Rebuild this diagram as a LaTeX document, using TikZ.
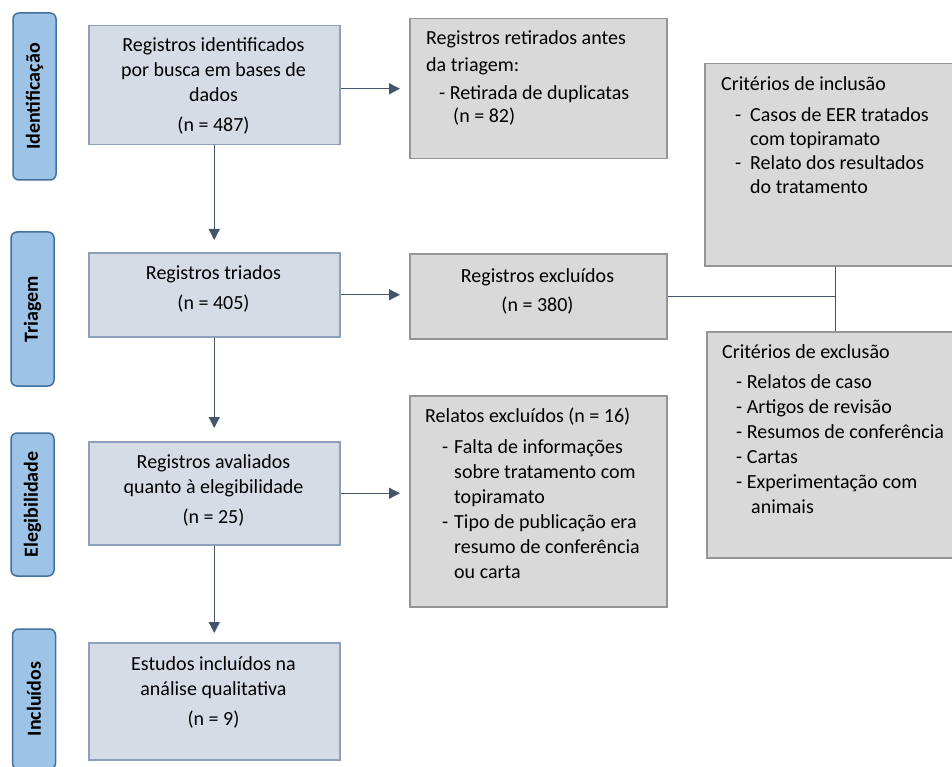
\documentclass[tikz,border=0pt]{standalone}
\usepackage{fontspec}
\setmainfont{Carlito}
\usetikzlibrary{arrows.meta}
\definecolor{sidefill}{HTML}{9DC3E6}
\definecolor{sideborder}{HTML}{41719C}
\definecolor{lfill}{HTML}{D6DCE5}
\definecolor{lborder}{HTML}{8EA0BC}
\definecolor{rfill}{HTML}{D9D9D9}
\definecolor{rborder}{HTML}{959595}
\definecolor{arrowc}{HTML}{44546A}
\tikzset{
  sidebar/.style={draw=sideborder, fill=sidefill, rounded corners=6pt, line width=1.5pt,
    rotate=90, inner sep=0pt, minimum height=43pt, font=\bfseries\fontsize{20}{24}\selectfont},
  lbox/.style={draw=lborder, fill=lfill, line width=1.5pt, inner sep=0pt, anchor=north west},
  rbox/.style={draw=rborder, fill=rfill, line width=1.5pt, inner sep=0pt, anchor=north west},
  ctext/.style={inner sep=0pt, anchor=base, font=\fontsize{20}{25}\selectfont},
  ltext/.style={inner sep=0pt, anchor=base west, font=\fontsize{20}{25}\selectfont},
  flow/.style={draw=arrowc, line width=1.3pt, -{Triangle[length=11pt,width=11pt]}},
  link/.style={draw=arrowc, line width=1pt}
}
\begin{document}
\begin{tikzpicture}[x=1pt,y=-1pt]
\useasboundingbox (0,0) rectangle (952,767);
\clip (0,0) rectangle (952,767);
% side bars
\node[sidebar, minimum width=167pt] (s1) at (34.5,96.5) {Identificação};
\node[sidebar, minimum width=154pt] (s2) at (32.5,309) {Triagem};
\node[sidebar, minimum width=143pt] (s3) at (32.5,504.5) {Elegibilidade};
\node[sidebar, minimum width=140pt] (s4) at (34,699) {Incluídos};
% left boxes
\node[lbox, minimum width=251pt, minimum height=119pt] (b1) at (88,25) {};
\node[lbox, minimum width=251pt, minimum height=84pt] (b2) at (88,252) {};
\node[lbox, minimum width=251pt, minimum height=103pt] (b3) at (88,441) {};
\node[lbox, minimum width=251pt, minimum height=117pt] (b4) at (88,642) {};
% right boxes
\node[rbox, minimum width=257pt, minimum height=140pt] (r1) at (409,18) {};
\node[rbox, minimum width=257pt, minimum height=85pt] (r2) at (409,253) {};
\node[rbox, minimum width=257pt, minimum height=211pt] (r3) at (409,395) {};
\node[rbox, minimum width=262pt, minimum height=202pt] (inc) at (704,63) {};
\node[rbox, minimum width=258pt, minimum height=226pt] (exc) at (706,331) {};
% texts
\node[ctext] (t1) at (213.5,52) {\begin{tabular}[t]{@{}c@{}}Registros identificados\\ por busca em bases de\\ dados\\[5pt] (n = 487)\end{tabular}};
\node[ctext] (t2) at (213.5,279) {\begin{tabular}[t]{@{}c@{}}Registros triados\\[5pt] (n = 405)\end{tabular}};
\node[ctext] (t3) at (213.5,468) {\begin{tabular}[t]{@{}c@{}}Registros avaliados\\ quanto à elegibilidade\\[5pt] (n = 25)\end{tabular}};
\node[ctext] (t4) at (213.5,670) {\begin{tabular}[t]{@{}c@{}}Estudos incluídos na\\ análise qualitativa\\[5pt] (n = 9)\end{tabular}};
\node[ltext] (tr1) at (426,45) {\begin{tabular}[t]{@{}l@{}}Registros retirados antes\\[2pt] da triagem:\\[3pt] \hspace*{13pt}- Retirada de duplicatas\\[-2pt] \hspace*{27pt}(n = 82)\end{tabular}};
\node[ctext] (tr2) at (537.5,282) {\begin{tabular}[t]{@{}c@{}}Registros excluídos\\[4pt] (n = 380)\end{tabular}};
\node[ltext] (tr3) at (425,422) {\begin{tabular}[t]{@{}l@{}}Relatos excluídos (n = 16)\\[6pt]
\hspace*{17pt}\makebox[12pt][l]{-}Falta de informações\\
\hspace*{29pt}sobre tratamento com\\
\hspace*{29pt}topiramato\\
\hspace*{17pt}\makebox[12pt][l]{-}Tipo de publicação era\\
\hspace*{29pt}resumo de conferência\\
\hspace*{29pt}ou carta\end{tabular}};
\node[ltext] (tinc) at (721,91) {\begin{tabular}[t]{@{}l@{}}Critérios de inclusão\\[6pt]
\hspace*{14pt}\makebox[15pt][l]{-}Casos de EER tratados\\[-1pt]
\hspace*{29pt}com topiramato\\[-1pt]
\hspace*{14pt}\makebox[15pt][l]{-}Relato dos resultados\\[-1pt]
\hspace*{29pt}do tratamento\end{tabular}};
\node[ltext] (texc) at (722,358) {\begin{tabular}[t]{@{}l@{}}Critérios de exclusão\\[5pt]
\hspace*{14pt}- Relatos de caso\\
\hspace*{14pt}- Artigos de revisão\\
\hspace*{14pt}- Resumos de conferência\\
\hspace*{14pt}- Cartas\\
\hspace*{14pt}- Experimentação com\\
\hspace*{29pt}animais\end{tabular}};
% connectors
\draw[flow, shorten >=9pt] (b1.east |- r1.west) -- (r1.west);
\draw[flow, shorten >=9pt] (b2.east) -- (b2.east -| r2.west);
\draw[flow, shorten >=9pt] (b3.east) -- (b3.east -| r3.west);
\draw[flow, shorten >=12pt] (b1.south) -- (b2.north);
\draw[flow, shorten >=13pt] (b2.south) -- (b3.north);
\draw[flow, shorten >=9pt] (b3.south) -- (b4.north);
\draw[link] (r2.east) -- (r2.east -| inc.south);
\draw[link] (inc.south) -- (exc.north);
\end{tikzpicture}
\end{document}
